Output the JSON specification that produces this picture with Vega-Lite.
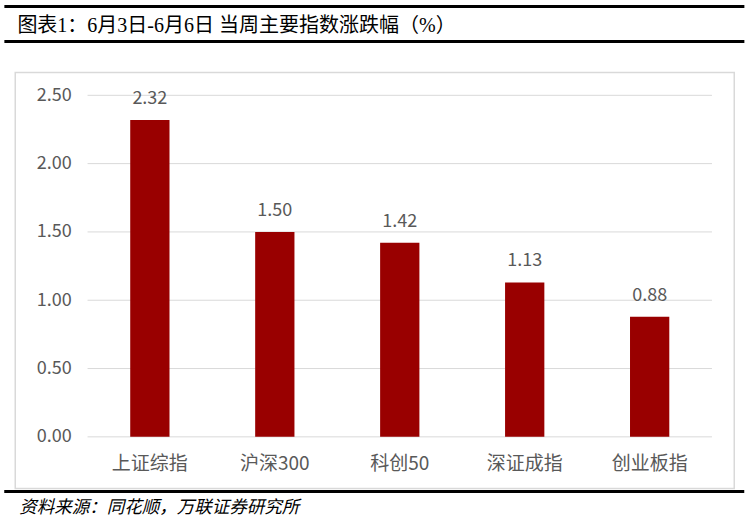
{
  "$schema": "https://vega.github.io/schema/vega-lite/v6.json",
  "padding": {"left": 2, "top": 4.5, "right": 6, "bottom": 0},
  "background": "white",
  "config": {"view": {"stroke": null}, "font": "Noto Sans CJK SC"},
  "datasets": {
    "indices": [
      {"name": "上证综指", "value": 2.32},
      {"name": "沪深300", "value": 1.50},
      {"name": "科创50", "value": 1.42},
      {"name": "深证成指", "value": 1.13},
      {"name": "创业板指", "value": 0.88}
    ],
    "grid": [{"v": 0}, {"v": 0.5}, {"v": 1}, {"v": 1.5}, {"v": 2}, {"v": 2.5}],
    "title": [{"t": "图表1：6月3日-6月6日 当周主要指数涨跌幅（%）"}],
    "source": [{"t": "资料来源：同花顺，万联证券研究所"}]
  },
  "spacing": 0,
  "center": true,
  "vconcat": [
    {
      "spacing": 28,
      "center": true,
      "vconcat": [
        {
          "width": 740,
          "height": 35,
          "data": {"name": "title"},
          "layer": [
            {
              "mark": {"type": "rule", "stroke": "black", "strokeWidth": 3},
              "encoding": {"y": {"datum": 0, "type": "quantitative", "scale": {"domain": [0, 1]}, "axis": null}}
            },
            {
              "mark": {"type": "rule", "stroke": "black", "strokeWidth": 3},
              "encoding": {"y": {"datum": 1, "type": "quantitative"}}
            },
            {
              "mark": {"type": "text", "align": "left", "baseline": "middle", "dx": 13, "dy": 1.5, "fontSize": 20, "font": "'Liberation Serif', 'Noto Sans CJK SC'", "fill": "black"},
              "encoding": {
                "x": {"datum": 0, "type": "quantitative", "scale": {"domain": [0, 1]}, "axis": null},
                "y": {"datum": 0.5, "type": "quantitative"},
                "text": {"field": "t"}
              }
            }
          ]
        },
        {
          "width": 719,
          "height": 416,
          "view": {"stroke": "#d9d9d9", "strokeWidth": 1.5},
          "layer": [
            {
              "data": {"name": "grid"},
              "mark": {"type": "rule", "stroke": "#d9d9d9", "strokeWidth": 1},
              "encoding": {
                "x": {"datum": 0, "type": "quantitative", "scale": {"domain": [-0.1158, 1.0357]}, "axis": null},
                "x2": {"datum": 1},
                "y": {
                  "field": "v",
                  "type": "quantitative",
                  "scale": {"domain": [-0.378, 2.667], "nice": false, "zero": false},
                  "axis": {
                    "title": null,
                    "domain": false,
                    "ticks": false,
                    "grid": false,
                    "values": [0, 0.5, 1, 1.5, 2, 2.5],
                    "format": ".2f",
                    "offset": -56,
                    "labelPadding": 0,
                    "labelFontSize": 18,
                    "labelColor": "#595959"
                  }
                }
              }
            },
            {
              "data": {"name": "indices"},
              "layer": [
                {
                  "mark": {"type": "bar", "color": "#990000"},
                  "encoding": {
                    "x": {
                      "field": "name",
                      "type": "nominal",
                      "sort": null,
                      "scale": {"type": "band", "paddingInner": 0.6856, "paddingOuter": 0.72, "align": 0.639},
                      "axis": {
                        "title": null,
                        "domain": false,
                        "ticks": false,
                        "labelAngle": 0,
                        "offset": -34,
                        "labelPadding": 0,
                        "labelFontSize": 19,
                        "labelColor": "#595959"
                      }
                    },
                    "y": {
                      "field": "value",
                      "type": "quantitative",
                      "scale": {"domain": [-0.378, 2.667], "nice": false, "zero": false},
                      "axis": {
                        "title": null,
                        "domain": false,
                        "ticks": false,
                        "grid": false,
                        "values": [0, 0.5, 1, 1.5, 2, 2.5],
                        "format": ".2f",
                        "offset": -56,
                        "labelPadding": 0,
                        "labelFontSize": 18,
                        "labelColor": "#595959"
                      }
                    },
                    "y2": {"datum": 0}
                  }
                },
                {
                  "mark": {"type": "text", "baseline": "alphabetic", "dy": -16, "fontSize": 18, "fill": "#595959"},
                  "encoding": {
                    "x": {"field": "name", "type": "nominal", "sort": null},
                    "y": {"field": "value", "type": "quantitative"},
                    "text": {"field": "value", "type": "quantitative", "format": ".2f"}
                  }
                }
              ]
            }
          ],
          "resolve": {"scale": {"x": "independent"}, "axis": {"x": "independent"}}
        }
      ]
    },
    {
      "width": 740,
      "height": 32,
      "data": {"name": "source"},
      "layer": [
        {
          "mark": {"type": "rule", "stroke": "black", "strokeWidth": 3},
          "encoding": {"y": {"datum": 0.97, "type": "quantitative", "scale": {"domain": [0, 1]}, "axis": null}}
        },
        {
          "mark": {"type": "text", "align": "left", "baseline": "middle", "dx": 15, "fontSize": 17.5, "fontStyle": "italic", "fill": "black"},
          "encoding": {
            "x": {"datum": 0, "type": "quantitative", "scale": {"domain": [0, 1]}, "axis": null},
            "y": {"datum": 0.45, "type": "quantitative"},
            "text": {"field": "t"}
          }
        }
      ]
    }
  ]
}
